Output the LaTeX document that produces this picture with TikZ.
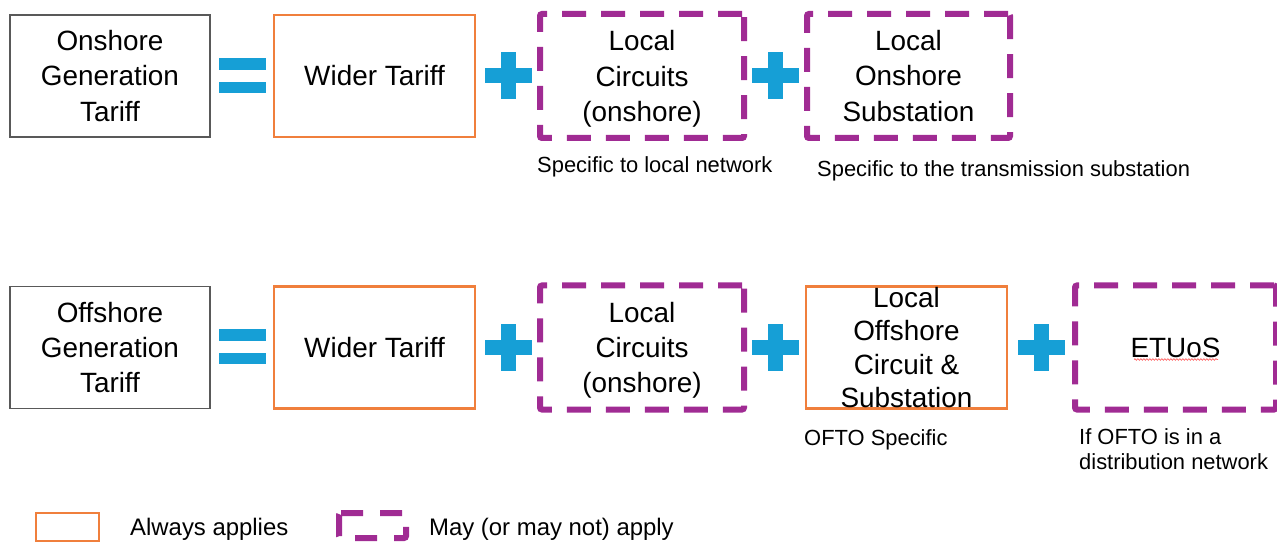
\documentclass[tikz,border=0pt]{standalone}
\usepackage{fontspec}
\setmainfont{Liberation Sans}
\usetikzlibrary{decorations.pathmorphing}
\definecolor{orng}{HTML}{F07F3C}
\definecolor{purp}{HTML}{A02B93}
\definecolor{blu}{HTML}{169FD6}
\definecolor{gry}{HTML}{595959}
\begin{document}
\begin{tikzpicture}[x=1bp,y=-1bp,
  box/.style={minimum height=122bp, inner sep=0pt, align=center, text=black,
    font=\fontsize{28}{35.5}\selectfont},
  plainbox/.style={box, draw=gry, line width=1.5bp},
  always/.style={box, draw=orng, line width=2.5bp},
  maybeline/.style={draw=purp, line width=6bp, dash pattern=on 24bp off 15bp, rounded corners=2bp},
  maybe/.style={box, minimum height=124bp, maybeline},
  note/.style={inner sep=0pt, anchor=west, align=left,
    font=\fontsize{22}{26}\selectfont},
  legendtext/.style={inner sep=0pt, anchor=west, font=\fontsize{24}{28}\selectfont},
  plussign/.pic={\fill[blu] (-23.5,-7.5) rectangle (23.5,7.5);
                 \fill[blu] (-7.5,-23.5) rectangle (7.5,23.5);},
  equalsign/.pic={\fill[blu] (-23.5,-18) rectangle (23.5,-6);
                  \fill[blu] (-23.5,6) rectangle (23.5,17);}
]
\useasboundingbox (0,0) rectangle (1277,542);

% Row 1
\node[plainbox, minimum width=200bp] (on) at (110,76) {Onshore\\Generation\\Tariff};
\pic at (242.5,76) {equalsign};
\node[always, minimum width=201bp] (wt1) at (374.5,76) {Wider Tariff};
\pic at (508,76) {plussign};
\node[maybe, minimum width=204bp] (lc1) at (642,76) {Local\\Circuits\\\smash{(onshore)}};
\pic at (775,76) {plussign};
\node[maybe, minimum width=203bp] (los) at (908.5,76) {Local\\Onshore\\Substation};
\node[note] (n1) at (537,167) {Specific to local network};
\node[note] (n2) at (817,171) {Specific to the transmission substation};

% Row 2
\node[plainbox, minimum width=200bp] (off) at (110,347.5) {Offshore\\Generation\\Tariff};
\pic at (242.5,347.5) {equalsign};
\node[always, minimum width=201bp] (wt2) at (374.5,347.5) {Wider Tariff};
\pic at (508,347.5) {plussign};
\node[maybe, minimum width=204bp] (lc2) at (642,347.5) {Local\\Circuits\\\smash{(onshore)}};
\pic at (775,347.5) {plussign};
\node[always, minimum width=201bp, font=\fontsize{28}{33.4}\selectfont] (lof) at (906.5,347.5) {Local\\Offshore\\Circuit \&\\Substation};
\pic at (1041,347.5) {plussign};
\node[maybe, minimum width=201bp] (et) at (1175.5,347.5) {ETUoS};
\draw[red!60, line width=0.7bp, decorate,
  decoration={snake, amplitude=0.8bp, segment length=3bp}]
  (1134,359.5) -- (1218,359.5);
\node[note] (n3) at (804,440) {OFTO Specific};
\node[note, anchor=north west] (n4) at (1079,428) {If OFTO is in a\\distribution network};

% Legend
\node[draw=orng, line width=2.5bp, minimum width=63bp, minimum height=28bp, inner sep=0pt] (lg1) at (67.5,527) {};
\coordinate (lgA) at (339,513);
\coordinate (lgB) at (406,513);
\coordinate (lgC) at (406,538);
\coordinate (lgD) at (339,538);
\draw[maybeline, dash pattern=on 22bp off 17bp] (lgA) -- (lgB) -- (lgC) -- (lgD) -- cycle;
\node[legendtext] (lt1) at (130,529) {Always applies};
\node[legendtext] (lt2) at (429,529) {May (or may not) apply};
\end{tikzpicture}
\end{document}
